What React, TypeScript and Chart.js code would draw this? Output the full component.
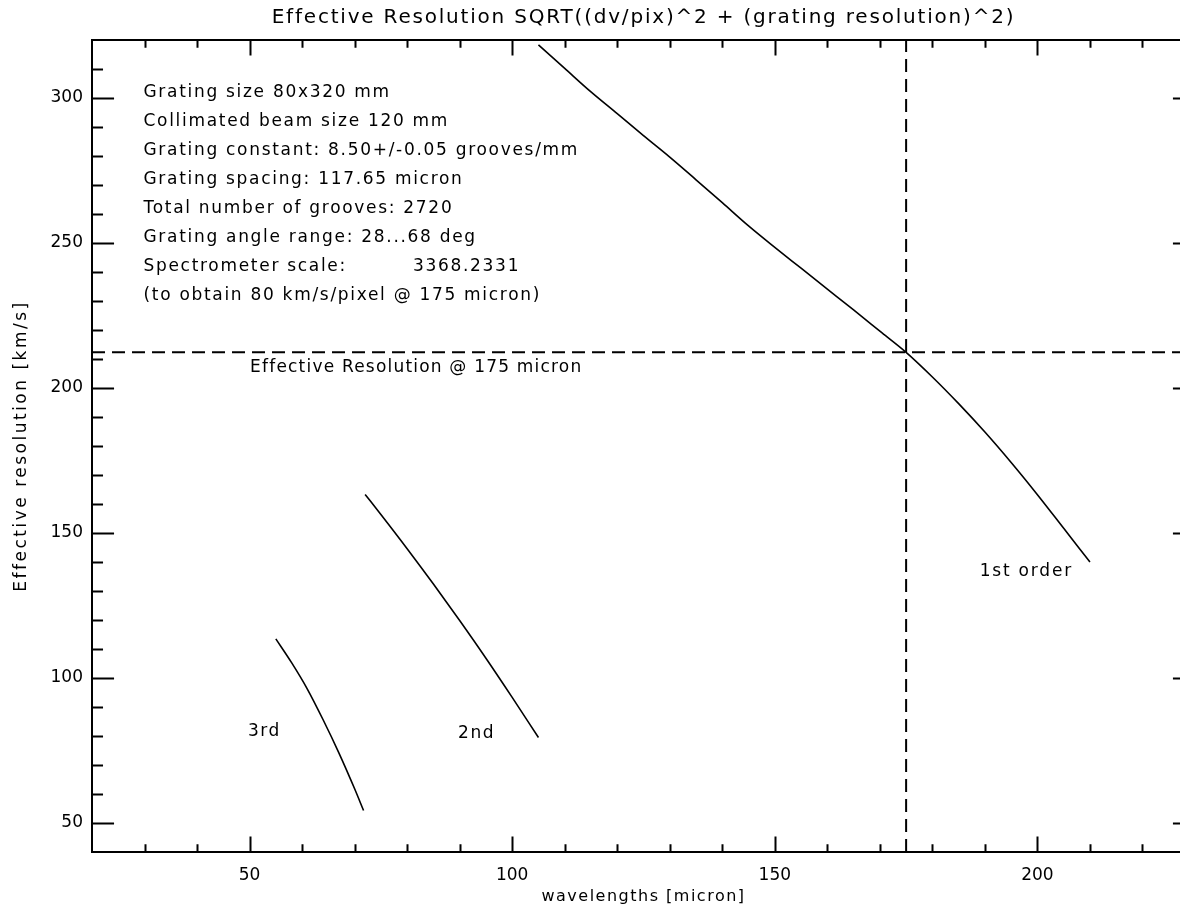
import React, { useEffect, useRef } from 'react';
import { Chart, registerables } from 'chart.js';
Chart.register(...registerables);

// ---- data ----
const firstOrderX = [105, 110, 115, 120, 125, 130, 135, 140, 145, 150, 155, 160, 165, 170, 175, 180, 185, 190, 195, 200, 205, 210];
const firstOrderY = [318.3, 310.2, 302.1, 294.6, 287.0, 279.6, 271.8, 263.9, 255.9, 248.5, 241.3, 234.1, 226.9, 219.6, 212.3, 203.8, 194.6, 184.8, 174.3, 163.2, 151.6, 140.0];
const secondOrderX = [72, 75, 80, 85, 90, 95, 100, 105];
const secondOrderY = [163.3, 156.4, 144.6, 132.4, 119.8, 106.8, 93.3, 79.5];
const thirdOrderX = [55, 58, 61, 64, 67, 70, 71.7];
const thirdOrderY = [113.5, 105.3, 96.2, 85.6, 74.2, 61.8, 54.3];

const refWavelength = 175;
const refResolution = 212.3;

const xRange = [20, 230];
const yRange = [40, 320];
const xMajorTicks = [50, 100, 150, 200];
const xMinorTicks = [30, 40, 60, 70, 80, 90, 110, 120, 130, 140, 160, 170, 180, 190, 210, 220];
const yMajorTicks = [50, 100, 150, 200, 250, 300];
const yMinorTicks = [60, 70, 80, 90, 110, 120, 130, 140, 160, 170, 180, 190, 210, 220, 230, 240, 260, 270, 280, 290, 310];

const titleText = 'Effective Resolution SQRT((dv/pix)^2 + (grating resolution)^2)';
const xTitle = 'wavelengths [micron]';
const yTitle = 'Effective resolution [km/s]';

const infoLines = [
  'Grating size 80x320 mm',
  'Collimated beam size 120 mm',
  'Grating constant: 8.50+/-0.05 grooves/mm',
  'Grating spacing: 117.65 micron',
  'Total number of grooves: 2720',
  'Grating angle range: 28...68 deg',
  'Spectrometer scale:',
  '(to obtain 80 km/s/pixel @ 175 micron)',
];
const infoLineY = [302, 292, 282, 272, 262, 252, 242, 232];
const infoX = 29.8;
const scaleValueText = '3368.2331';
const scaleValueX = 81.1;

const labelTexts = ['Effective Resolution @ 175 micron', '1st order', '2nd', '3rd'];
const labelX = [50.1, 189, 89.7, 49.7];
const labelY = [207.2, 136.6, 81, 81.4];
const labelSpacing = [1.2, 1.8, 1.5, 1.5];

const FONT = '"DejaVu Sans", sans-serif';

function toXY(xs: number[], ys: number[]) {
  return xs.map((x, i) => ({ x, y: ys[i] }));
}

function drawText(ctx: CanvasRenderingContext2D, text: string, x: number, y: number, size: number, spacing: number, align: CanvasTextAlign) {
  ctx.font = `${size}px ${FONT}`;
  (ctx as any).letterSpacing = `${spacing}px`;
  ctx.textAlign = align;
  ctx.textBaseline = 'middle';
  ctx.fillText(text, x, y);
}

const idlPlugin = {
  id: 'idlFrame',
  beforeDraw(chart: any) {
    const { ctx, width, height } = chart;
    ctx.save();
    ctx.fillStyle = '#fff';
    ctx.fillRect(0, 0, width, height);
    ctx.restore();
  },
  afterDraw(chart: any) {
    const { ctx, chartArea, scales } = chart;
    const { left, right, top, bottom } = chartArea;
    const xs = scales.x;
    const ys = scales.y;
    ctx.save();
    ctx.strokeStyle = '#000';
    ctx.fillStyle = '#000';
    ctx.lineWidth = 2;
    ctx.strokeRect(left, top, right - left, bottom - top);

    const xLen = (bottom - top) * 0.019;
    const yLen = (right - left) * 0.02;
    ctx.beginPath();
    const xt = [...xMajorTicks.map((v) => [v, xLen]), ...xMinorTicks.map((v) => [v, xLen / 2])];
    for (const [v, len] of xt) {
      const px = Math.round(xs.getPixelForValue(v)) + 0.5;
      ctx.moveTo(px, bottom);
      ctx.lineTo(px, bottom - len);
      ctx.moveTo(px, top);
      ctx.lineTo(px, top + len);
    }
    const yt = [...yMajorTicks.map((v) => [v, yLen]), ...yMinorTicks.map((v) => [v, yLen / 2])];
    for (const [v, len] of yt) {
      const py = Math.round(ys.getPixelForValue(v)) + 0.5;
      ctx.moveTo(left, py);
      ctx.lineTo(left + len, py);
      ctx.moveTo(right, py);
      ctx.lineTo(right - len, py);
    }
    ctx.lineWidth = 2;
    ctx.stroke();

    // title
    drawText(ctx, titleText, (left + right) / 2, 18, 20, 1.8, 'center');
    // axis titles
    drawText(ctx, xTitle, (left + right) / 2, 897, 16, 1.5, 'center');
    ctx.save();
    ctx.translate(22, (top + bottom) / 2);
    ctx.rotate(-Math.PI / 2);
    drawText(ctx, yTitle, 0, 0, 17, 2.5, 'center');
    ctx.restore();

    // info block
    infoLines.forEach((t, i) => {
      drawText(ctx, t, xs.getPixelForValue(infoX), ys.getPixelForValue(infoLineY[i]), 17, 1.7, 'left');
    });
    drawText(ctx, scaleValueText, xs.getPixelForValue(scaleValueX), ys.getPixelForValue(infoLineY[6]), 17, 1.7, 'left');

    labelTexts.forEach((t, i) => {
      drawText(ctx, t, xs.getPixelForValue(labelX[i]), ys.getPixelForValue(labelY[i]), 17, labelSpacing[i], 'left');
    });
    ctx.restore();
  },
};

export default function App() {
  const ref = useRef<HTMLCanvasElement>(null);
  useEffect(() => {
    const canvas = ref.current!;
    const lineStyle = { borderColor: '#000', borderWidth: 1.6, pointRadius: 0, fill: false, cubicInterpolationMode: 'monotone' as const };
    const chart = new Chart(canvas, {
      type: 'line',
      data: {
        datasets: [
          { label: '1st order', data: toXY(firstOrderX, firstOrderY), ...lineStyle },
          { label: '2nd', data: toXY(secondOrderX, secondOrderY), ...lineStyle },
          { label: '3rd', data: toXY(thirdOrderX, thirdOrderY), ...lineStyle },
          {
            label: 'ref resolution',
            data: [{ x: xRange[0], y: refResolution }, { x: xRange[1], y: refResolution }],
            borderColor: '#000', borderWidth: 2, borderDash: [13, 7], pointRadius: 0,
          },
          {
            label: 'ref wavelength',
            data: [{ x: refWavelength, y: yRange[0] }, { x: refWavelength, y: yRange[1] }],
            borderColor: '#000', borderWidth: 2, borderDash: [13, 7], pointRadius: 0,
          },
        ],
      },
      options: {
        responsive: false,
        animation: false,
        devicePixelRatio: 1,
        layout: { padding: { top: 40, right: 5, left: 0, bottom: 0 } },
        plugins: { legend: { display: false }, tooltip: { enabled: false }, title: { display: false } },
        scales: {
          x: {
            type: 'linear',
            min: xRange[0],
            max: xRange[1],
            afterBuildTicks: (s: any) => { s.ticks = xMajorTicks.map((v) => ({ value: v })); },
            afterFit: (s: any) => { s.height = 60; },
            ticks: { font: { family: FONT, size: 17 }, color: '#000', padding: 13, autoSkip: false, maxRotation: 0, callback: (v: any) => String(v) },
            grid: { display: false, drawTicks: false },
            border: { display: false },
          },
          y: {
            type: 'linear',
            min: yRange[0],
            max: yRange[1],
            afterBuildTicks: (s: any) => { s.ticks = yMajorTicks.map((v) => ({ value: v })); },
            afterFit: (s: any) => { s.width = 92; },
            ticks: { font: { family: FONT, size: 17 }, color: '#000', padding: 9, autoSkip: false, callback: (v: any) => String(v) },
            grid: { display: false, drawTicks: false },
            border: { display: false },
          },
        },
      },
      plugins: [idlPlugin],
    });
    return () => chart.destroy();
  }, []);
  return (
    <div style={{ position: 'fixed', left: 0, top: 0, width: 1180, height: 912, overflow: 'hidden', background: '#fff' }}>
      <canvas ref={ref} width={1200} height={912} style={{ display: 'block' }} />
    </div>
  );
}
